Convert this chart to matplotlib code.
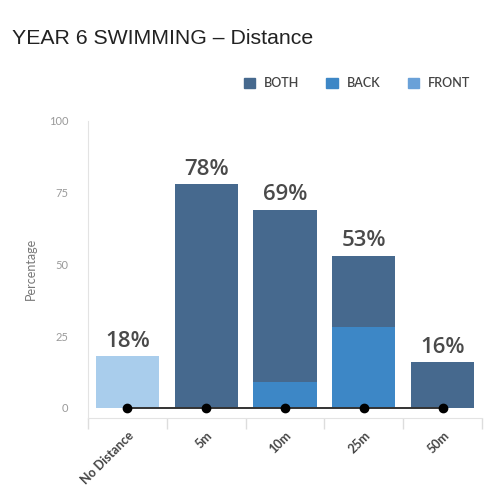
import numpy as np
import matplotlib.pyplot as plt
from matplotlib.patches import Patch

categories = ['No Distance', '5m', '10m', '25m', '50m']
both = [0, 78, 60, 25, 16]
back = [0, 0, 9, 28, 0]
front = [18, 0, 0, 0, 0]
labels = ['18%', '78%', '69%', '53%', '16%']

c_both = '#46698e'
c_back = '#3d87c6'
c_front = '#a9cdec'
c_front_leg = '#6aa1d8'

plt.rcParams['font.family'] = ['Lato', 'DejaVu Sans']

fig = plt.figure(figsize=(5, 5.01), dpi=100)
ax = fig.add_axes([0.176, 0.166, 0.788, 0.593])

x = np.arange(len(categories))
back = np.array(back)
both = np.array(both)
front = np.array(front)
w = 0.8
ax.bar(x, front, w, color=c_front)
ax.bar(x, back, w, color=c_back)
ax.bar(x, both, w, bottom=back, color=c_both)

totals = front + back + both
for xi, t, lab in zip(x, totals, labels):
    ax.text(xi, t + 1.5, lab, ha='center', va='bottom', fontsize=16,
            fontweight='semibold', color='#4a4a4a',
            family=['Open Sans', 'DejaVu Sans'])

ax.plot(x, np.zeros(len(x)), color='#333333', lw=1.4, marker='o',
        markersize=6, markerfacecolor='black', markeredgecolor='black', zorder=5)

ax.set_xlim(-0.5, len(categories) - 0.5)
ax.set_ylim(-3.5, 100)
ax.set_yticks([0, 25, 50, 75, 100])
ax.tick_params(axis='y', length=0, labelsize=8, labelcolor='#9a9a9a', pad=14)
ax.set_xticks(x)
ax.set_xticklabels(categories, rotation=45, ha='right', rotation_mode='anchor',
                   fontsize=9, color='#444444', fontweight='bold')
ax.tick_params(axis='x', length=0, pad=8)
ax.set_xticks(np.arange(-0.5, len(categories)), minor=True)
ax.tick_params(axis='x', which='minor', length=8, color='#dddddd', width=1)

for s in ['top', 'right']:
    ax.spines[s].set_visible(False)
ax.spines['left'].set_color('#e3e3e3')
ax.spines['bottom'].set_color('#e3e3e3')

ax.set_ylabel('Percentage', fontsize=9, color='#777777', labelpad=9)

fig.text(0.024, 0.913, 'YEAR 6 SWIMMING \u2013 Distance', fontsize=15.3,
         color='#222222', family=['Liberation Sans', 'DejaVu Sans'])

handles = [Patch(color=c_both), Patch(color=c_back), Patch(color=c_front_leg)]
fig.legend(handles, ['BOTH', 'BACK', 'FRONT'], loc='upper right',
           bbox_to_anchor=(0.962, 0.868), ncol=3, frameon=False,
           prop={'size': 9, 'weight': 'semibold'},
           handlelength=0.9, handleheight=0.9, handletextpad=0.7,
           columnspacing=2.2, labelcolor='#444444')

fig.savefig('out.png', dpi=100)
